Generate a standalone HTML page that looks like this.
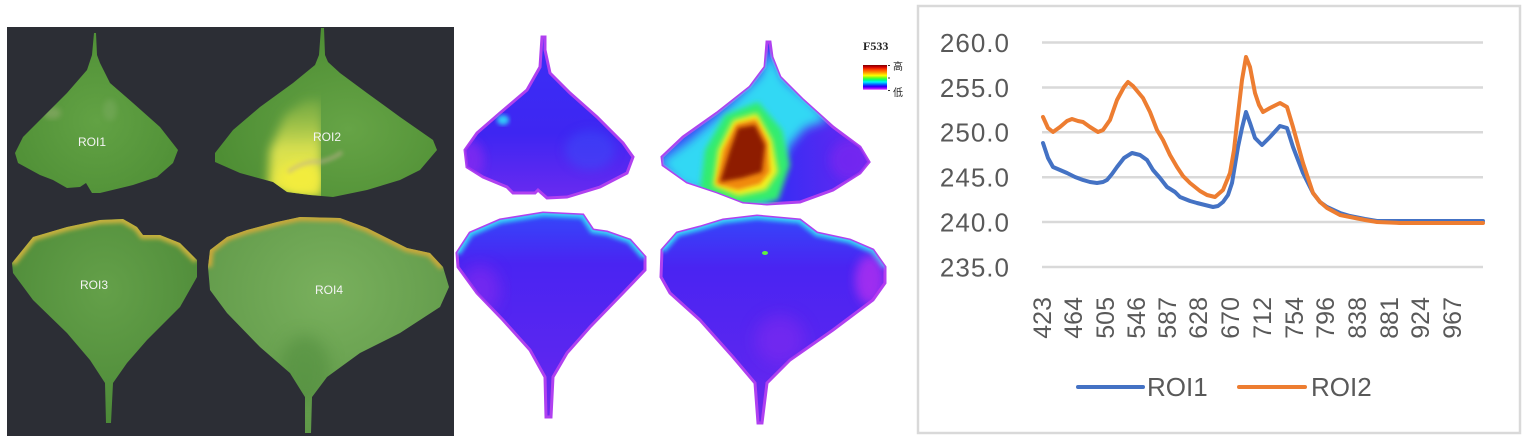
<!DOCTYPE html>
<html>
<head>
<meta charset="utf-8">
<style>
html,body{margin:0;padding:0;background:#fff;}
svg{display:block;}
</style>
</head>
<body>
<svg width="1526" height="439" viewBox="0 0 1526 439" xmlns="http://www.w3.org/2000/svg">
<defs>
  <filter id="b2" x="-20%" y="-20%" width="140%" height="140%"><feGaussianBlur stdDeviation="2"/></filter>
  <filter id="b3" x="-20%" y="-20%" width="140%" height="140%"><feGaussianBlur stdDeviation="3"/></filter>
  <filter id="b5" x="-30%" y="-30%" width="160%" height="160%"><feGaussianBlur stdDeviation="5"/></filter>
  <filter id="b8" x="-30%" y="-30%" width="160%" height="160%"><feGaussianBlur stdDeviation="8"/></filter>

  <radialGradient id="g1" cx="0.5" cy="0.55" r="0.6">
    <stop offset="0" stop-color="#62a244"/><stop offset="1" stop-color="#4f8f36"/>
  </radialGradient>
  <radialGradient id="g2" cx="0.6" cy="0.6" r="0.6">
    <stop offset="0" stop-color="#66a446"/><stop offset="1" stop-color="#4e8e34"/>
  </radialGradient>
  <radialGradient id="g3" cx="0.5" cy="0.35" r="0.65">
    <stop offset="0" stop-color="#64a049"/><stop offset="1" stop-color="#4d8a38"/>
  </radialGradient>
  <radialGradient id="g4" cx="0.5" cy="0.35" r="0.65">
    <stop offset="0" stop-color="#79b05d"/><stop offset="1" stop-color="#5f9848"/>
  </radialGradient>
  <linearGradient id="yel" x1="0" y1="0" x2="0" y2="1">
    <stop offset="0" stop-color="#a8c84a" stop-opacity="0.3"/>
    <stop offset="0.5" stop-color="#d8e050"/>
    <stop offset="1" stop-color="#f0ea40"/>
  </linearGradient>

  <linearGradient id="h1" x1="0" y1="0" x2="0" y2="1">
    <stop offset="0" stop-color="#3a30f6"/><stop offset="0.6" stop-color="#3e26f2"/><stop offset="1" stop-color="#6a2af0"/>
  </linearGradient>
  <linearGradient id="h2" x1="0" y1="0" x2="1" y2="0">
    <stop offset="0" stop-color="#3a4cf8"/><stop offset="0.6" stop-color="#3c2cf4"/><stop offset="1" stop-color="#6a28f0"/>
  </linearGradient>
  <linearGradient id="h3" x1="0" y1="0" x2="0" y2="1">
    <stop offset="0" stop-color="#3448fa"/><stop offset="0.25" stop-color="#4a24f2"/><stop offset="0.7" stop-color="#5a26f0"/><stop offset="1" stop-color="#7028ee"/>
  </linearGradient>

  <linearGradient id="cbar" x1="0" y1="0" x2="0" y2="1">
    <stop offset="0" stop-color="#7a0000"/>
    <stop offset="0.08" stop-color="#d00000"/>
    <stop offset="0.18" stop-color="#ff4000"/>
    <stop offset="0.3" stop-color="#ff9a00"/>
    <stop offset="0.42" stop-color="#ffff00"/>
    <stop offset="0.52" stop-color="#60ff20"/>
    <stop offset="0.6" stop-color="#00ff80"/>
    <stop offset="0.68" stop-color="#00f0ff"/>
    <stop offset="0.77" stop-color="#0070ff"/>
    <stop offset="0.85" stop-color="#2000ff"/>
    <stop offset="0.93" stop-color="#9000ff"/>
    <stop offset="1" stop-color="#ffa0ff"/>
  </linearGradient>

  <path id="L1" d="M94,33 L96,33 L97,55 L100,63 L110,83 L133,103 L160,127 L178,150 L173,163 L157,177 L133,185 L100,193 L92,193 L86,183 L80,187 L67,188 L53,180 L40,175 L18,163 L15,153 L23,137 L43,117 L67,93 L87,70 L92,55 Z"/>
  <path id="L2" d="M321,28 L324,28 L325,55 L328,62 L340,73 L367,93 L400,117 L433,140 L437,150 L420,170 L400,180 L367,190 L333,197 L310,195 L287,192 L273,182 L240,173 L215,162 L215,153 L233,130 L260,107 L293,83 L315,65 L319,55 Z"/>
  <path id="L3" d="M12,263 L33,237 L67,227 L100,220 L123,219 L137,227 L143,235 L160,235 L180,243 L197,260 L197,277 L180,307 L147,340 L127,363 L113,383 L111,423 L106,423 L105,383 L90,360 L67,333 L33,300 L13,273 Z"/>
  <path id="L4" d="M208,267 L210,250 L227,237 L247,230 L277,222 L300,217 L340,218 L367,228 L387,238 L407,248 L430,253 L443,267 L449,287 L440,307 L400,333 L360,353 L327,377 L312,397 L311,433 L305,433 L305,397 L290,373 L260,347 L227,313 L210,290 Z"/>

  <path id="H1" d="M542,37 L545,37 L545,50 L550,73 L570,93 L597,117 L623,143 L633,157 L627,173 L600,187 L567,197 L547,198 L538,190 L535,193 L513,193 L507,187 L483,177 L467,167 L465,150 L477,133 L500,113 L527,90 L540,67 Z"/>
  <path id="H2" d="M767,42 L770,42 L772,57 L780,77 L803,100 L833,127 L860,147 L869,162 L860,173 L833,190 L800,202 L767,204 L743,202 L717,192 L687,182 L663,165 L662,157 L683,137 L717,113 L750,87 L765,67 Z"/>
  <path id="H3" d="M457,253 L470,233 L500,220 L543,213 L583,215 L593,230 L607,232 L630,240 L645,257 L645,270 L623,293 L590,327 L567,353 L553,377 L551,417 L546,417 L545,377 L530,350 L503,320 L477,293 L458,267 Z"/>
  <path id="H4" d="M662,250 L677,233 L700,227 L723,220 L757,216 L800,220 L817,233 L850,240 L873,250 L885,267 L885,283 L873,300 L833,330 L790,360 L767,383 L762,423 L758,423 L755,383 L733,357 L700,320 L670,293 L661,277 Z"/>

  <clipPath id="c2"><use href="#L2"/></clipPath>
  <clipPath id="c3"><use href="#L3"/></clipPath>
  <clipPath id="c4"><use href="#L4"/></clipPath>
  <clipPath id="c1"><use href="#L1"/></clipPath>
  <clipPath id="ch1"><use href="#H1"/></clipPath>
  <clipPath id="ch2"><use href="#H2"/></clipPath>
  <clipPath id="ch3"><use href="#H3"/></clipPath>
  <clipPath id="ch4"><use href="#H4"/></clipPath>
  <clipPath id="midL"><rect x="200" y="20" width="121" height="190"/></clipPath>
</defs>

<!-- ===== Photo panel ===== -->
<rect x="7" y="27" width="447" height="409" fill="#2c2e35"/>

<use href="#L1" fill="url(#g1)"/>
<g clip-path="url(#c1)">
  <ellipse cx="52" cy="113" rx="9" ry="6" fill="#b8b890" opacity="0.35" filter="url(#b3)"/>
  <ellipse cx="110" cy="110" rx="7" ry="11" fill="#a8c090" opacity="0.2" filter="url(#b3)"/>
</g>

<use href="#L2" fill="url(#g2)"/>
<g clip-path="url(#c2)">
  <g clip-path="url(#midL)">
    <path d="M268,190 L270,150 L285,115 L305,100 L322,100 L322,198 Z" fill="url(#yel)" filter="url(#b5)"/>
    <ellipse cx="300" cy="178" rx="20" ry="16" fill="#f2ec3c" filter="url(#b5)"/>
  </g>
  <path d="M288,172 Q305,160 320,162 Q335,158 342,152" stroke="#c0b090" stroke-width="4" fill="none" opacity="0.6" filter="url(#b2)"/>
</g>

<use href="#L3" fill="url(#g3)"/>
<g clip-path="url(#c3)">
  <path d="M12,263 L33,237 L67,227 L100,220 L123,219 L137,227 L143,235 L160,235 L180,243 L197,260" stroke="#c8b03e" stroke-width="8" fill="none" filter="url(#b2)"/>
</g>

<use href="#L4" fill="url(#g4)"/>
<g clip-path="url(#c4)">
  <path d="M208,267 L210,250 L227,237 L247,230 L277,222 L300,217 L340,218 L367,228 L387,238 L407,248 L430,253 L443,267" stroke="#c9a83a" stroke-width="8" fill="none" filter="url(#b2)"/>
  <ellipse cx="305" cy="370" rx="25" ry="35" fill="#4e8a3a" opacity="0.5" filter="url(#b8)"/>
</g>

<g font-family="Liberation Sans, sans-serif" font-size="12" fill="#f4f4f4" text-anchor="middle">
  <text x="92" y="146">ROI1</text>
  <text x="327" y="141">ROI2</text>
  <text x="94" y="289">ROI3</text>
  <text x="329" y="294">ROI4</text>
</g>

<!-- ===== Heat map panel ===== -->
<use href="#H1" fill="url(#h1)" stroke="#b040f0" stroke-width="3"/>
<g clip-path="url(#ch1)">
  <ellipse cx="503" cy="120" rx="6" ry="5" fill="#30c8f8" filter="url(#b2)"/>
  <ellipse cx="470" cy="160" rx="14" ry="20" fill="#8a2cf0" opacity="0.7" filter="url(#b5)"/>
  <ellipse cx="590" cy="150" rx="25" ry="20" fill="#3a50f8" opacity="0.5" filter="url(#b5)"/>
</g>

<use href="#H2" fill="url(#h2)" stroke="#b040f0" stroke-width="3"/>
<g clip-path="url(#ch2)">
  <path d="M660,162 L690,140 L730,105 L760,75 L770,50 L785,80 L810,100 L828,120 L805,128 L790,145 L778,170 L768,206 L720,198 L680,185 Z" fill="#30d8f4" filter="url(#b5)"/>
  <path d="M700,190 L705,150 L725,115 L758,102 L782,130 L790,165 L778,200 L735,205 Z" fill="#30ec70" filter="url(#b3)"/>
  <path d="M713,186 L718,150 L733,120 L757,113 L772,140 L778,172 L766,190 L738,196 Z" fill="#f4f020" filter="url(#b3)"/>
  <path d="M716,184 L723,150 L736,124 L756,119 L768,142 L770,172 L760,184 L738,190 Z" fill="#f08a10" filter="url(#b2)"/>
  <path d="M720,182 L730,150 L738,128 L755,125 L765,145 L762,172 L742,178 Z" fill="#8e1a02" filter="url(#b2)"/>
  <ellipse cx="850" cy="160" rx="20" ry="20" fill="#7a28f0" opacity="0.7" filter="url(#b5)"/>
</g>

<use href="#H3" fill="url(#h3)" stroke="#b040f0" stroke-width="3"/>
<g clip-path="url(#ch3)">
  <path d="M457,253 L470,233 L500,220 L543,213 L583,215 L593,230 L607,232 L630,240 L645,257" stroke="#30d0f8" stroke-width="7" fill="none" filter="url(#b2)"/>
  <ellipse cx="480" cy="290" rx="20" ry="25" fill="#8a2cef" opacity="0.6" filter="url(#b8)"/>
</g>

<use href="#H4" fill="url(#h3)" stroke="#b040f0" stroke-width="3"/>
<g clip-path="url(#ch4)">
  <path d="M662,250 L677,233 L700,227 L723,220 L757,216 L800,220 L817,233 L850,240 L873,250 L885,267" stroke="#30d0f8" stroke-width="7" fill="none" filter="url(#b2)"/>
  <ellipse cx="870" cy="280" rx="15" ry="25" fill="#c030f0" opacity="0.7" filter="url(#b5)"/>
  <ellipse cx="780" cy="340" rx="25" ry="25" fill="#8a2cef" opacity="0.5" filter="url(#b8)"/>
  <ellipse cx="765" cy="253" rx="3" ry="2" fill="#60f040"/>
</g>

<!-- Legend of heat map -->
<text x="863" y="50" font-family="Liberation Serif, serif" font-weight="bold" font-size="12" fill="#222">F533</text>
<rect x="863" y="65" width="24" height="25" fill="url(#cbar)"/>
<g stroke="#333" stroke-width="1">
  <line x1="888" y1="65.5" x2="890" y2="65.5"/>
  <line x1="888" y1="78" x2="890" y2="78"/>
  <line x1="888" y1="90.5" x2="890" y2="90.5"/>
</g>
<g font-family="Liberation Sans, 'Noto Sans CJK SC', sans-serif" font-size="10" fill="#222">
  <text x="893" y="70">高</text>
  <text x="893" y="96">低</text>
</g>

<!-- ===== Chart panel ===== -->
<rect x="918" y="6" width="602" height="427" fill="#fff" stroke="#d9d9d9" stroke-width="2.5"/>
<g stroke="#d9d9d9" stroke-width="2.5">
  <line x1="1042" y1="42.5" x2="1483" y2="42.5"/>
  <line x1="1042" y1="87.5" x2="1483" y2="87.5"/>
  <line x1="1042" y1="132.3" x2="1483" y2="132.3"/>
  <line x1="1042" y1="177.2" x2="1483" y2="177.2"/>
  <line x1="1042" y1="222" x2="1483" y2="222"/>
  <line x1="1042" y1="267" x2="1483" y2="267"/>
</g>
<g font-family="Liberation Sans, sans-serif" font-size="26" fill="#595959" text-anchor="end" letter-spacing="1">
  <text x="1010" y="52">260.0</text>
  <text x="1010" y="97">255.0</text>
  <text x="1010" y="141.5">250.0</text>
  <text x="1010" y="186.5">245.0</text>
  <text x="1010" y="231.5">240.0</text>
  <text x="1010" y="276.5">235.0</text>
</g>
<g font-family="Liberation Sans, sans-serif" font-size="25" fill="#595959" text-anchor="end">
  <text transform="translate(1051,297) rotate(-90)">423</text>
  <text transform="translate(1082,297) rotate(-90)">464</text>
  <text transform="translate(1114,297) rotate(-90)">505</text>
  <text transform="translate(1145,297) rotate(-90)">546</text>
  <text transform="translate(1176,297) rotate(-90)">587</text>
  <text transform="translate(1207,297) rotate(-90)">628</text>
  <text transform="translate(1239,297) rotate(-90)">670</text>
  <text transform="translate(1271,297) rotate(-90)">712</text>
  <text transform="translate(1303,297) rotate(-90)">754</text>
  <text transform="translate(1334,297) rotate(-90)">796</text>
  <text transform="translate(1366,297) rotate(-90)">838</text>
  <text transform="translate(1398,297) rotate(-90)">881</text>
  <text transform="translate(1429,297) rotate(-90)">924</text>
  <text transform="translate(1461,297) rotate(-90)">967</text>
</g>

<polyline fill="none" stroke="#4472C4" stroke-width="4" stroke-linejoin="round" stroke-linecap="round"
 points="1043,143 1048,158 1053,167 1060,170 1067,173 1075,177 1083,180 1090,182 1097,183 1103,182 1107,180 1112,174 1117,167 1124,158 1132,153 1140,155 1147,160 1153,170 1160,178 1167,187 1175,192 1180,197 1190,201 1197,203 1205,205 1213,207 1218,206 1223,202 1228,195 1232,183 1235,165 1238,147 1242,128 1246,112 1250,123 1255,138 1262,145 1270,137 1280,126 1287,128 1293,147 1303,173 1313,193 1320,202 1327,207 1340,213 1350,216 1365,219 1377,221 1483,221"/>
<polyline fill="none" stroke="#ED7D31" stroke-width="4" stroke-linejoin="round" stroke-linecap="round"
 points="1043,117 1048,128 1053,132 1060,127 1067,121 1072,119 1078,121 1083,122 1090,127 1098,132 1103,130 1110,120 1117,100 1124,87 1128,82 1133,86 1143,98 1150,112 1157,130 1163,140 1170,155 1177,167 1183,176 1190,183 1200,191 1207,195 1215,197 1223,190 1230,173 1234,150 1237,123 1242,80 1246,57 1250,67 1255,93 1259,105 1263,112 1270,108 1280,103 1287,107 1293,127 1303,163 1313,193 1320,202 1327,208 1340,215 1350,217 1365,220 1377,222 1400,223 1483,223"/>

<line x1="1078" y1="387" x2="1143" y2="387" stroke="#4472C4" stroke-width="4" stroke-linecap="round"/>
<line x1="1239" y1="387" x2="1305" y2="387" stroke="#ED7D31" stroke-width="4" stroke-linecap="round"/>
<g font-family="Liberation Sans, sans-serif" font-size="26" fill="#595959">
  <text x="1147" y="396">ROI1</text>
  <text x="1311" y="396">ROI2</text>
</g>
</svg>
</body>
</html>
